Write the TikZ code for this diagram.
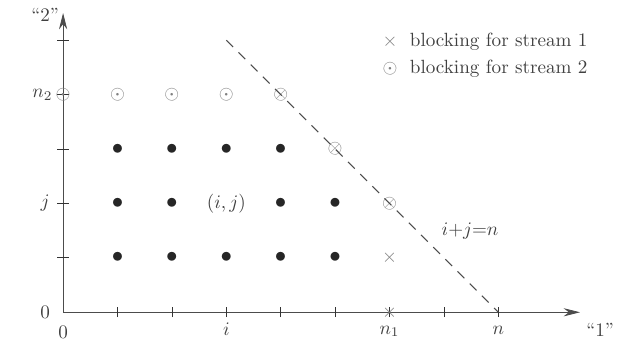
\documentclass[tikz,border=0pt]{standalone}
\usepackage{amsmath,amssymb}
\usetikzlibrary{arrows.meta}

\begin{document}
\begin{tikzpicture}[
    axis/.style={draw=black!70, -{Stealth[length=3mm, width=1.5mm]}},
    tick/.style={draw=black!80},
    state/.style={inner sep=0pt, text=black!85, font=\large},
    block/.style={inner sep=0pt, text=black!50},
    lbl/.style={text=black!75},
    bound/.style={draw=black!70, line width=0.6pt, dash pattern=on 5pt off 4pt}
]
\useasboundingbox (-1.16,-0.64) rectangle (10.42,5.74);

% Axes
\coordinate (O) at (0,0);
\coordinate (xend) at (9.5,0);
\coordinate (yend) at (0,5.5);
\draw[axis] (O) -- (xend);
\draw[axis] (O) -- (yend);
\foreach \k in {1,...,8}
    \draw[tick] (\k,-0.09) -- (\k,0.09);
\foreach \k in {1,...,5}
    \draw[tick] (-0.11,\k) -- (0.11,\k);

% States (i,j)
\foreach \i/\j in {1/1,2/1,3/1,4/1,5/1,1/2,2/2,4/2,5/2,1/3,2/3,3/3,4/3}
    \node[state] (s-\i-\j) at (\i,\j) {$\bullet$};
\node[lbl] (ij) at (3,2) {$(i,j)$};

% Blocking states
\foreach \i in {0,...,3}
    \node[block] (b2-\i) at (\i,4) {$\odot$};
\foreach \i/\j in {4/4,5/3,6/2}
    \node[block] (b12-\i) at (\i,\j) {$\otimes$};
\foreach \j in {0,1}
    \node[block] (b1-\j) at (6,\j) {$\times$};

% Boundary i+j=n
\coordinate (ltop) at (3,5);
\coordinate (lend) at (8,0);
\draw[bound] (ltop) -- (lend);
\node[lbl] (eq) at (7.48,1.49) {$i{+}j{=}n$};

% Axis labels
\node[lbl] (y0) at (-0.33,0) {$0$};
\node[lbl] (x0) at (0,-0.37) {$0$};
\node[lbl] (yj) at (-0.33,2) {$j$};
\node[lbl] (yn2) at (-0.38,4) {$n_2$};
\node[lbl] (ylab) at (-0.33,5.47) {``2''};
\node[lbl] (xi) at (3,-0.31) {$i$};
\node[lbl] (xn1) at (6,-0.35) {$n_1$};
\node[lbl] (xn) at (8,-0.33) {$n$};
\node[lbl] (xlab) at (9.87,-0.33) {``1''};

% Legend
\node[block] (key1) at (6.01,4.98) {$\times$};
\node[lbl, anchor=west] (txt1) at (6.25,4.98) {blocking for stream 1};
\node[block] (key2) at (6.01,4.47) {$\odot$};
\node[lbl, anchor=west] (txt2) at (6.25,4.47) {blocking for stream 2};

\end{tikzpicture}
\end{document}
